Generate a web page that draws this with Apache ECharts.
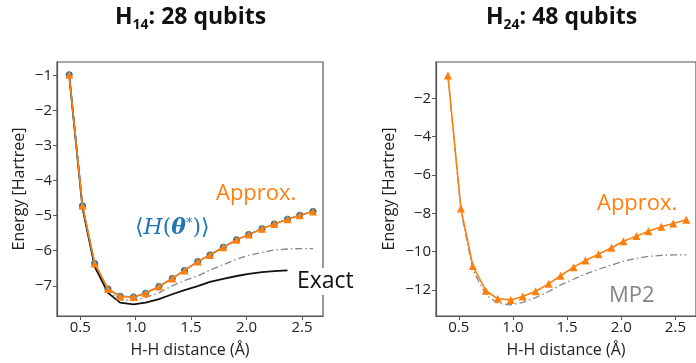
<!DOCTYPE html>
<html>
<head>
<meta charset="utf-8">
<script src="https://cdn.jsdelivr.net/npm/echarts@6/dist/echarts.min.js"></script>
<style>
  html, body { margin: 0; background: #fff; }
  #main { width: 696px; height: 363px; }
</style>
</head>
<body>
<div id="main"></div>
<script>
// H-H distance (Angstrom) of each point
const distance = [0.40, 0.52, 0.63, 0.75, 0.86, 0.98, 1.09, 1.21, 1.33, 1.44,
                  1.56, 1.67, 1.79, 1.91, 2.02, 2.14, 2.25, 2.37, 2.48, 2.60];

// H14, 28 qubits
const h14Approx = [-0.98, -4.72, -6.36, -7.09, -7.30, -7.32, -7.21, -7.02, -6.79, -6.56,
                   -6.31, -6.12, -5.90, -5.69, -5.54, -5.37, -5.24, -5.10, -4.99, -4.88];
const h14Theta  = [-0.98, -4.72, -6.36, -7.09, -7.30, -7.32, -7.21, -7.02, -6.79, -6.56,
                   -6.31, -6.12, -5.90, -5.69, -5.54, -5.37, -5.24, -5.10, -4.99, -4.88];
const h14Mp2    = [-1.00, -4.75, -6.42, -7.15, -7.40, -7.42, -7.33, -7.20, -7.00, -6.85,
                   -6.72, -6.55, -6.40, -6.24, -6.13, -6.05, -5.98, -5.95, -5.94, -5.94];
const h14Exact  = [-1.00, -4.78, -6.45, -7.20, -7.48, -7.53, -7.48, -7.38, -7.24, -7.12,
                   -7.01, -6.89, -6.80, -6.72, -6.66, -6.61, -6.58, -6.56];

// H24, 48 qubits
const h24Approx = [-0.80, -7.75, -10.75, -12.04, -12.46, -12.52, -12.34, -12.07, -11.68, -11.26,
                   -10.81, -10.46, -10.14, -9.80, -9.46, -9.19, -8.93, -8.70, -8.53, -8.34];
const h24Mp2    = [-0.80, -7.85, -10.95, -12.25, -12.70, -12.78, -12.65, -12.40, -12.08, -11.74,
                   -11.44, -11.17, -10.92, -10.70, -10.50, -10.35, -10.25, -10.19, -10.17, -10.17];

// tick labels
const xTicks = [0.5, 1.0, 1.5, 2.0, 2.5];
const h14YTicks = [-7, -6, -5, -4, -3, -2, -1];
const h24YTicks = [-12, -10, -8, -6, -4, -2];

const FONT = '"Open Sans", "Noto Sans", sans-serif';
const MATH = '"DejaVu Serif", serif';
const ORANGE = '#ff7f0e';
const BLUE = '#1f77b4';
const GREY = '#858585';
const SPINE = '#555555';

const pairs = (xs, ys) => ys.map((y, i) => [xs[i], y]);
const minus = v => (v < 0 ? '\u2212' + Math.abs(v) : String(v));

function xAxisFor(gridIndex) {
  return {
    type: 'value', gridIndex, min: 0.29, max: 2.69,
    name: 'H-H distance (Å)', nameLocation: 'middle', nameGap: 26,
    nameTextStyle: { fontFamily: FONT, fontSize: 16, color: '#222' },
    axisLine: { show: true, onZero: false, lineStyle: { color: SPINE, width: 1.2 } },
    axisTick: { show: true, length: 4, customValues: xTicks, lineStyle: { color: SPINE } },
    axisLabel: { customValues: xTicks, formatter: v => v.toFixed(1), fontFamily: FONT, fontSize: 15, color: '#222', margin: 4 },
    splitLine: { show: false }
  };
}

function yAxisFor(gridIndex, min, max, ticks, gap) {
  return {
    type: 'value', gridIndex, min, max,
    name: 'Energy [Hartree]', nameLocation: 'middle', nameGap: gap,
    nameTextStyle: { fontFamily: FONT, fontSize: 16, color: '#222' },
    axisLine: { show: true, onZero: false, lineStyle: { color: SPINE, width: 1.2 } },
    axisTick: { show: true, length: 4, customValues: ticks, lineStyle: { color: SPINE } },
    axisLabel: { customValues: ticks, formatter: minus, fontFamily: FONT, fontSize: 15, color: '#222', margin: 5 },
    splitLine: { show: false }
  };
}

function line(idx, xs, ys, style) {
  return Object.assign({
    type: 'line', xAxisIndex: idx, yAxisIndex: idx, data: pairs(xs, ys),
    silent: true
  }, style);
}

function titleText(left, sub, rest) {
  return {
    type: 'text', left, top: 6, z: 10,
    style: {
      text: '{h|H}{s|' + sub + '}{h|' + rest + '}',
      rich: {
        h: { fontFamily: FONT, fontWeight: 'bold', fontSize: 23, fill: '#111', lineHeight: 30, verticalAlign: 'middle' },
        s: { fontFamily: FONT, fontWeight: 'bold', fontSize: 14, fill: '#111', lineHeight: 13, verticalAlign: 'bottom' }
      }
    }
  };
}

const mp2Style = { symbol: 'none', z: 1, lineStyle: { color: GREY, width: 1.3, type: [7, 3, 1.5, 3] } };
const approxStyle = {
  symbol: 'triangle', symbolSize: 8, z: 4,
  itemStyle: { color: ORANGE }, lineStyle: { color: ORANGE, width: 1.6 }
};

const chart = echarts.init(document.getElementById('main'));
chart.setOption({
  animation: false,
  grid: [
    { left: 57, top: 62, width: 266, height: 261, show: true, borderColor: SPINE, borderWidth: 1.2 },
    { left: 436, top: 62, width: 266, height: 261, show: true, borderColor: SPINE, borderWidth: 1.2 }
  ],
  xAxis: [xAxisFor(0), xAxisFor(1)],
  yAxis: [
    yAxisFor(0, -7.86, -0.62, h14YTicks, 30),
    yAxisFor(1, -13.36, -0.10, h24YTicks, 39)
  ],
  series: [
    line(0, distance, h14Exact, { symbol: 'none', z: 2, lineStyle: { color: '#111', width: 1.8 } }),
    line(0, distance, h14Mp2, mp2Style),
    line(0, distance, h14Theta, {
      symbol: 'circle', symbolSize: 7, z: 3,
      itemStyle: { color: BLUE }, lineStyle: { color: BLUE, width: 1.5 }
    }),
    line(0, distance, h14Approx, approxStyle),
    line(1, distance, h24Mp2, mp2Style),
    line(1, distance, h24Approx, approxStyle)
  ],
  graphic: [
    titleText(115, '14', ': 28 qubits'),
    titleText(486, '24', ': 48 qubits'),
    {
      type: 'text', left: 216, top: 183, z: 10,
      style: { text: 'Approx.', fontFamily: FONT, fontSize: 22, fill: ORANGE }
    },
    {
      type: 'text', left: 135, top: 217, z: 10,
      style: {
        text: '{a|\u27E8}{i|H}{a|(}{b|θ}{p|*}{a|)\u27E9}',
        rich: {
          a: { fontFamily: MATH, fontSize: 22, fill: BLUE },
          i: { fontFamily: MATH, fontStyle: 'italic', fontSize: 22, fill: BLUE },
          b: { fontFamily: MATH, fontStyle: 'italic', fontWeight: 'bold', fontSize: 22, fill: BLUE },
          p: { fontFamily: MATH, fontSize: 13, fill: BLUE, verticalAlign: 'top' }
        }
      }
    },
    {
      type: 'text', left: 296, top: 268, z: 10,
      style: { text: 'Exact', fontFamily: FONT, fontSize: 23, fill: '#111', backgroundColor: '#fff', padding: [2, 1, 2, 1] }
    },
    {
      type: 'text', left: 597, top: 193, z: 10,
      style: { text: 'Approx.', fontFamily: FONT, fontSize: 22, fill: ORANGE }
    },
    {
      type: 'text', left: 609, top: 285, z: 10,
      style: { text: 'MP2', fontFamily: FONT, fontSize: 22, fill: GREY }
    }
  ]
});
</script>
</body>
</html>
